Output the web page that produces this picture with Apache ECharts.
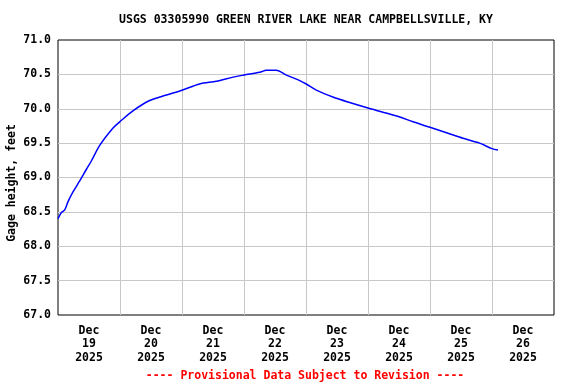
<!DOCTYPE html>
<html>
<head>
<meta charset="utf-8">
<script src="https://cdn.jsdelivr.net/npm/echarts@6/dist/echarts.min.js"></script>
<style>html,body{margin:0;padding:0;background:#fff}#c{width:576px;height:384px}</style>
</head>
<body>
<div id="c"></div>
<script>
// Hours since 2025-12-19 00:00 and gage height (feet)
var hoursSinceDec19 = [0, 1.3, 2.6, 3.9, 5.8, 8.4, 11, 12.9, 16.2, 21.3, 23.9, 29, 35.5, 42, 48, 54.8, 61.3, 67.8, 72, 78.1, 80.7, 84.5, 88.4, 93.6, 96.1, 100, 106.4, 112.9, 120, 125.8, 132.3, 137.4, 144, 150.4, 156.8, 163.2, 168, 170.3];
var gageHeight = [68.40, 68.49, 68.53, 68.65, 68.79, 68.95, 69.12, 69.24, 69.47, 69.72, 69.81, 69.97, 70.12, 70.20, 70.27, 70.36, 70.40, 70.46, 70.49, 70.53, 70.56, 70.56, 70.49, 70.41, 70.36, 70.27, 70.17, 70.09, 70.01, 69.95, 69.88, 69.81, 69.73, 69.65, 69.57, 69.50, 69.42, 69.40];
var dayLabels = ['Dec\n19\n2025', 'Dec\n20\n2025', 'Dec\n21\n2025', 'Dec\n22\n2025', 'Dec\n23\n2025', 'Dec\n24\n2025', 'Dec\n25\n2025', 'Dec\n26\n2025'];
var yTicks = [67, 71, 0.5];

var FONT = '"DejaVu Sans Mono", monospace';
var data = hoursSinceDec19.map(function (h, i) { return [h, gageHeight[i]]; });

var chart = echarts.init(document.getElementById('c'), null, { renderer: 'canvas' });
chart.setOption({
  animation: false,
  grid: { left: 58, right: 22, top: 40, bottom: 69, containLabel: false, outerBoundsMode: 'none', show: true, borderColor: '#000', borderWidth: 1, backgroundColor: 'transparent' },
  graphic: [
    { type: 'text', x: 306, y: 20, style: { text: 'USGS 03305990 GREEN RIVER LAKE NEAR CAMPBELLSVILLE, KY', font: 'bold 11.5px ' + FONT, fill: '#000', textAlign: 'center', textVerticalAlign: 'middle' } },
    { type: 'text', x: 12, y: 183, rotation: Math.PI / 2, style: { text: 'Gage height, feet', font: 'bold 11.5px ' + FONT, fill: '#000', textAlign: 'center', textVerticalAlign: 'middle' } },
    { type: 'text', x: 305, y: 376.5, style: { text: '---- Provisional Data Subject to Revision ----', font: 'bold 11.5px ' + FONT, fill: '#ff0000', textAlign: 'center', textVerticalAlign: 'middle' } }
  ],
  xAxis: [
    {
      type: 'value', min: 0, max: 192, interval: 24,
      axisLine: { show: false }, axisTick: { show: false }, axisLabel: { show: false },
      splitLine: { show: true, showMinLine: false, showMaxLine: false, lineStyle: { color: '#c8c8c8', width: 1 } }
    },
    {
      type: 'category', data: dayLabels, boundaryGap: true, position: 'bottom',
      axisLine: { show: false }, axisTick: { show: false }, splitLine: { show: false },
      axisLabel: { interval: 0, margin: 9, color: '#000', fontFamily: FONT, fontWeight: 'bold', fontSize: 11.5, lineHeight: 13.5 }
    }
  ],
  yAxis: {
    type: 'value', min: yTicks[0], max: yTicks[1], interval: yTicks[2],
    axisLine: { show: false }, axisTick: { show: false },
    axisLabel: { margin: 7, color: '#000', fontFamily: FONT, fontWeight: 'bold', fontSize: 11.5, formatter: function (v) { return v.toFixed(1); } },
    splitLine: { show: true, showMinLine: false, showMaxLine: false, lineStyle: { color: '#c8c8c8', width: 1 } }
  },
  series: [{
    type: 'line', xAxisIndex: 0, data: data, showSymbol: false, smooth: 0.3,
    lineStyle: { color: '#0000ff', width: 1.5 }
  }]
});
</script>
</body>
</html>
